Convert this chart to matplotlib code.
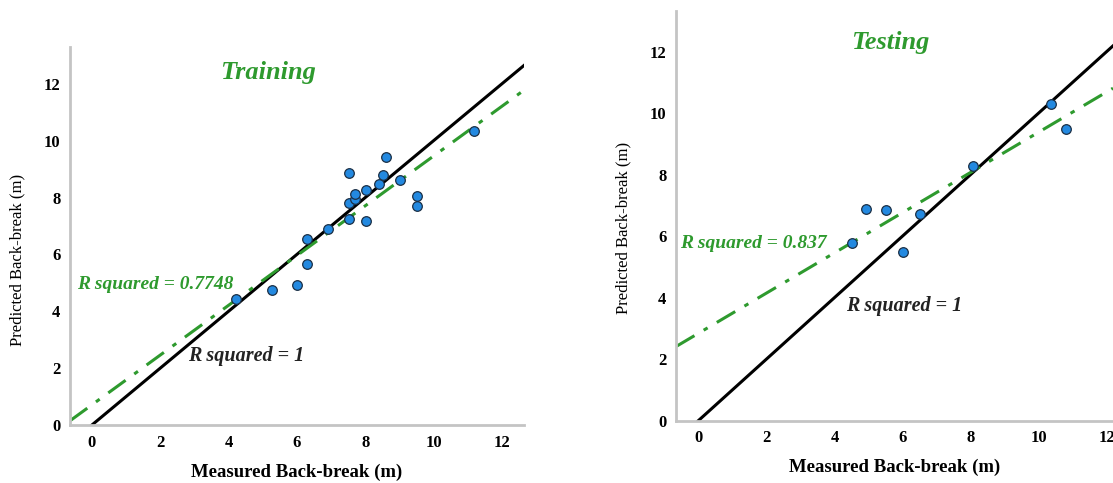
import matplotlib
matplotlib.use("Agg")
import matplotlib.pyplot as plt

# --- data -----------------------------------------------------------------
train_measured = [4.22, 5.26, 6.01, 6.30, 6.30, 6.90, 7.53, 8.01, 7.53, 7.70,
                  7.70, 8.01, 8.40, 8.51, 9.02, 7.53, 8.61, 9.51, 9.51, 11.19]
train_predicted = [4.42, 4.75, 4.91, 5.66, 6.55, 6.90, 7.26, 7.17, 7.81, 7.95,
                   8.11, 8.28, 8.46, 8.81, 8.62, 8.87, 9.41, 8.04, 7.69, 10.33]
test_measured = [4.51, 4.92, 5.51, 6.02, 6.51, 8.08, 10.36, 10.80]
test_predicted = [5.78, 6.88, 6.85, 5.49, 6.71, 8.29, 10.29, 9.48]

train_fit = (0.875, 0.71)     # slope, intercept of the green fit line
test_fit = (0.654, 2.84)
train_r2 = "0.7748"
test_r2 = "0.837"
ticks = [0, 2, 4, 6, 8, 10, 12]

SERIF = "Liberation Serif"
GREEN = "#2e9a2e"
BLUE = "#2389e0"
SPINE = "#c4c4c4"


def panel(ax, xs, ys, fit, r2, title, xlim, ylim, pos):
    slope, icpt = fit
    x0, x1 = xlim
    ax.plot([0, x1], [0, x1], color="black", lw=2.2, zorder=2)
    ax.plot([x0, x1], [icpt + slope * x0, icpt + slope * x1], color=GREEN,
            lw=2.2, dashes=(7, 3.5, 1.5, 3.5), zorder=2)
    ax.scatter(xs, ys, s=48, color=BLUE, edgecolor="#1b2f45", lw=0.9, zorder=3)
    ax.set_xlim(xlim)
    ax.set_ylim(ylim)
    ax.set_xticks(ticks)
    ax.set_yticks(ticks)
    for s in ("top", "right"):
        ax.spines[s].set_visible(False)
    for s in ("left", "bottom"):
        ax.spines[s].set_color(SPINE)
        ax.spines[s].set_linewidth(2)
    ax.tick_params(length=0, pad=7, labelsize=12)
    for lab in ax.get_xticklabels() + ax.get_yticklabels():
        lab.set_fontfamily(SERIF)
        lab.set_fontweight("bold")
    ax.set_xlabel("Measured Back-break (m)", family=SERIF, weight="bold",
                  fontsize=13.5, labelpad=9)
    ax.set_ylabel("Predicted Back-break (m)", family=SERIF, fontsize=12)
    ax.yaxis.set_label_coords(pos["ylab"][0], pos["ylab"][1])
    ax.text(pos["title"][0], pos["title"][1], title, family=SERIF,
            style="italic", weight="bold", color=GREEN, fontsize=pos["tsize"],
            ha="center", va="center")
    ax.text(pos["r2"][0], pos["r2"][1], f"R squared = {r2}", family=SERIF,
            style="italic", weight="bold", color=GREEN, fontsize=14,
            ha="left", va="center")
    ax.text(pos["one"][0], pos["one"][1], "R squared = 1", family=SERIF,
            style="italic", weight="bold", color="#222222", fontsize=14.5,
            ha="left", va="center")


fig = plt.figure(figsize=(11.13, 4.83), dpi=100)
ax1 = fig.add_axes([0.0629, 0.120, 0.408, 0.783])
ax2 = fig.add_axes([0.6074, 0.129, 0.3926, 0.848])

panel(ax1, train_measured, train_predicted, train_fit, train_r2, "Training",
      (-0.64, 12.65), (0, 13.3),
      {"title": (5.15, 12.4), "r2": (-0.44, 4.95), "one": (2.81, 2.42),
       "ylab": (-0.099, 0.437), "tsize": 19})
panel(ax2, test_measured, test_predicted, test_fit, test_r2, "Testing",
      (-0.655, 12.19), (0, 13.32),
      {"title": (5.63, 12.31), "r2": (-0.54, 5.75), "one": (4.34, 3.73),
       "ylab": (-0.103, 0.47), "tsize": 19})

fig.savefig("out.png", dpi=100)
